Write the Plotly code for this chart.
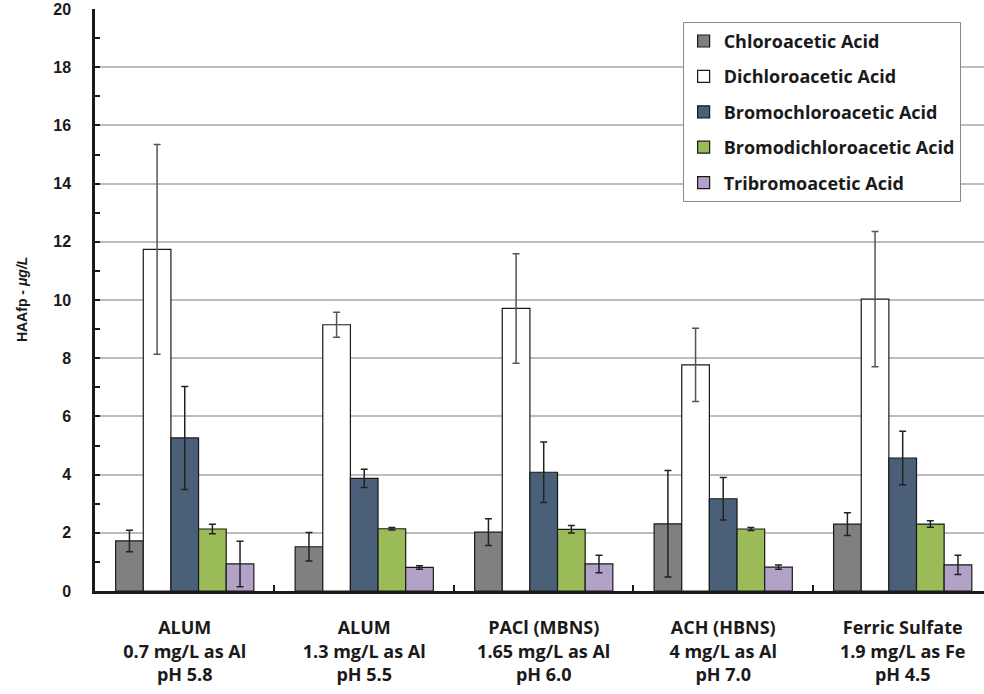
import plotly.graph_objects as go

categories = [
    "ALUM<br>0.7 mg/L as Al<br>pH 5.8",
    "ALUM<br>1.3 mg/L as Al<br>pH 5.5",
    "PACl (MBNS)<br>1.65 mg/L as Al<br>pH 6.0",
    "ACH (HBNS)<br>4 mg/L as Al<br>pH 7.0",
    "Ferric Sulfate<br>1.9 mg/L as Fe<br>pH 4.5",
]

series_names = [
    "Chloroacetic Acid",
    "Dichloroacetic Acid",
    "Bromochloroacetic Acid",
    "Bromodichloroacetic Acid",
    "Tribromoacetic Acid",
]

chloro = [1.72, 1.52, 2.02, 2.31, 2.30]
chloro_err = [0.37, 0.49, 0.46, 1.83, 0.39]
dichloro = [11.74, 9.15, 9.71, 7.77, 10.03]
dichloro_err = [3.60, 0.43, 1.88, 1.26, 2.32]
bromochloro = [5.26, 3.87, 4.08, 3.17, 4.57]
bromochloro_err = [1.77, 0.31, 1.04, 0.73, 0.92]
bromodichloro = [2.13, 2.14, 2.12, 2.13, 2.30]
bromodichloro_err = [0.16, 0.04, 0.13, 0.05, 0.11]
tribromo = [0.93, 0.81, 0.93, 0.82, 0.90]
tribromo_err = [0.78, 0.06, 0.30, 0.07, 0.33]

values = [chloro, dichloro, bromochloro, bromodichloro, tribromo]
errors = [chloro_err, dichloro_err, bromochloro_err, bromodichloro_err, tribromo_err]
colors = ["#808080", "#ffffff", "#4a6079", "#9bbb59", "#b3a2c7"]
err_colors = ["#222222", "#555555", "#222222", "#222222", "#222222"]

fig = go.Figure()
for i, (name, v, e, c, ec) in enumerate(zip(series_names, values, errors, colors, err_colors)):
    fig.add_trace(go.Bar(
        x=categories, y=v, name=name, legendgroup=f"g{i}",
        marker=dict(color=c, line=dict(color="#1a1a1a", width=1.2)),
        error_y=dict(type="data", array=e, visible=True, color=ec, thickness=1.5, width=3.5),
        hoverinfo="skip",
    ))

fig.update_layout(
    width=984, height=694,
    margin=dict(l=95, r=0, t=9, b=103),
    paper_bgcolor="white", plot_bgcolor="white",
    barmode="group", bargap=0.23, bargroupgap=0,
    font=dict(family="Open Sans", color="#1a1a1a"),
    showlegend=True,
    legend=dict(
        x=0.661, y=0.978, xanchor="left", yanchor="top",
        bgcolor="white", bordercolor="#8a8a8a", borderwidth=1,
        font=dict(family="Open Sans", size=18, weight="bold", color="#1a1a1a"),
        traceorder="grouped", tracegroupgap=9,
    ),
    xaxis=dict(
        type="category", range=[-0.5, 4.453],
        showline=True, linecolor="#1a1a1a", linewidth=2.5,
        ticks="inside", ticklen=6, tickwidth=2, tickcolor="#1a1a1a",
        tickson="boundaries",
        tickfont=dict(family="Open Sans", size=18, weight="bold", color="#1a1a1a"),
        ticklabelstandoff=19,
        showgrid=False, zeroline=False,
    ),
    yaxis=dict(
        range=[0, 20], dtick=2, tick0=0,
        showline=True, linecolor="#1a1a1a", linewidth=2.5,
        ticks="inside", ticklen=5, tickwidth=2, tickcolor="#1a1a1a",
        minor=dict(dtick=1, ticks="inside", ticklen=5, tickwidth=2, tickcolor="#1a1a1a", showgrid=False),
        showgrid=True, gridcolor="#bdbdbd", gridwidth=2,
        zeroline=False,
        tickfont=dict(family="Liberation Sans", size=16, weight="bold", color="#1a1a1a"),
        ticklabelstandoff=18,
    ),
    annotations=[dict(
        text="HAAfp - <i>μg/L</i>", xref="paper", yref="paper",
        x=-0.082, y=0.5, xanchor="center", yanchor="middle", textangle=-90,
        showarrow=False,
        font=dict(family="Liberation Sans", size=14, weight="bold", color="#1a1a1a"),
    )],
)

fig.write_html("out.html")
